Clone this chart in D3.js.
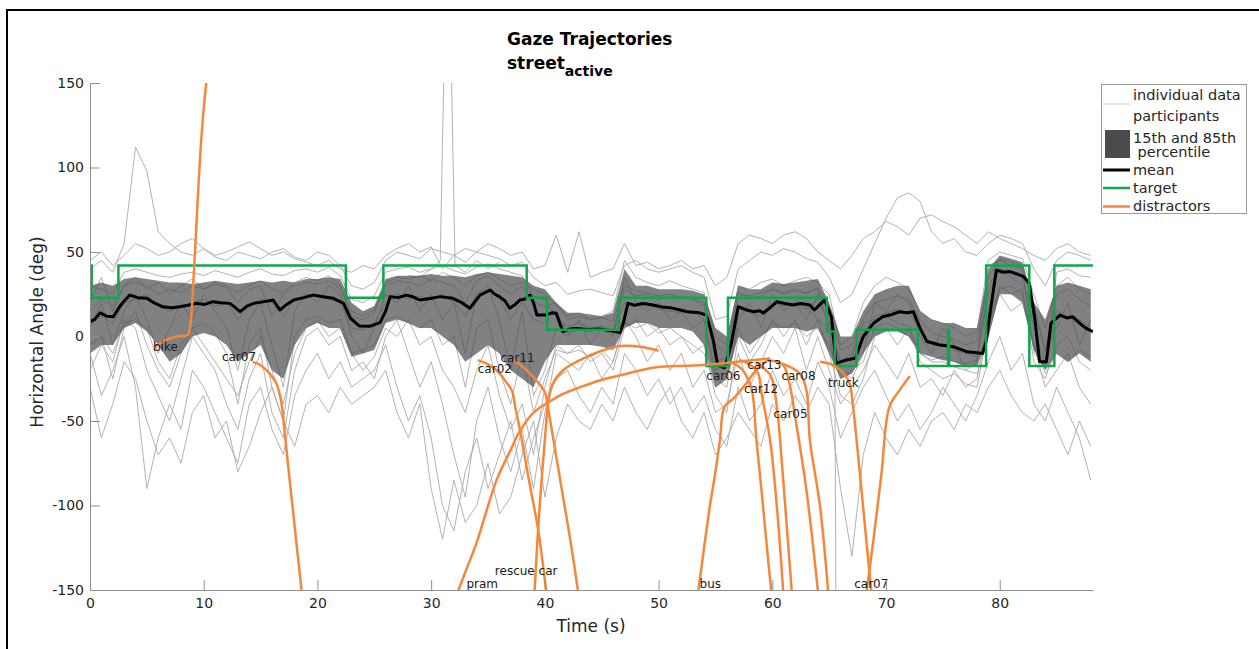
<!DOCTYPE html>
<html>
<head>
<meta charset="utf-8">
<script src="https://cdn.jsdelivr.net/npm/d3@7"></script>
<style>
body { margin: 0; background: #fff; }
text { font-family: "DejaVu Sans", sans-serif; }
</style>
</head>
<body>
<div id="chart"></div>
<script>

// ---- data ----
var xTicks = [0, 10, 20, 30, 40, 50, 60, 70, 80];
var yTicks = [-150, -100, -50, 0, 50, 100, 150];

// one sample per second, t = 0..88
var gridTimes = d3.range(0, 89);

var p01 = [40,45,38,55,112,98,62,55,50,48,52,47,45,50,48,46,50,52,47,45,50,48,42,30,28,32,45,50,48,46,52,50,48,44,50,48,46,42,44,35,30,32,25,27,28,26,24,42,45,40,38,40,42,38,35,10,12,40,45,50,48,52,50,46,44,35,20,25,40,55,70,82,85,80,62,55,58,50,48,55,60,58,55,40,30,45,50,48,45];
var p02 = [-10,-35,-20,0,-30,-90,-60,-40,-55,-20,-30,-45,-60,-75,-40,-30,-55,-70,-35,-20,-10,-25,-15,-30,-25,-20,-5,-30,-50,-35,-60,-100,-115,-80,-60,-90,-70,-50,-85,-60,-40,-25,-20,-35,-45,-30,-40,-10,-20,-35,-25,-40,-30,-45,-35,-55,-65,-30,-50,-40,-20,-35,-25,-40,-15,-30,-60,-45,-30,-20,-35,-50,-40,-55,-45,-30,-40,-50,-35,-15,0,-20,-10,-40,-50,-30,-45,-60,-85];
var p03 = [30,28,25,38,40,38,36,35,37,38,36,39,37,35,38,40,37,36,39,40,38,41,36,22,20,24,38,40,41,38,40,42,39,37,41,43,40,38,36,24,22,12,6,8,5,6,4,28,24,25,22,23,24,22,20,-15,-12,25,24,26,28,25,27,26,28,5,-15,-10,8,10,12,8,6,-10,-14,-12,-15,-16,-14,42,45,42,40,-10,-18,38,40,36,35];
var p04 = [5,20,-5,15,25,10,-10,5,20,10,25,15,5,-20,10,20,-5,-30,15,25,20,30,25,0,-10,5,25,20,30,15,25,10,20,-10,25,30,10,-20,15,-35,-20,5,0,10,-5,5,0,35,20,15,20,10,15,5,10,-25,-30,10,20,5,25,15,20,10,25,15,-20,-25,-10,20,15,25,20,0,-10,5,-5,-20,-15,30,40,35,30,20,-10,5,20,-5,10];
var p05 = [-20,-5,-15,10,5,-20,-35,-50,-25,0,-10,-20,-40,-55,-25,-10,-45,-60,-20,0,5,-5,0,-20,-15,-25,0,10,-10,-30,-15,-40,-70,-95,-50,-30,-60,-80,-55,-90,-45,-10,-15,-20,-10,-25,-15,10,0,-15,-5,-20,-10,-30,-20,-45,-40,-10,-30,-15,0,-10,5,-20,0,-20,-40,-30,-20,-5,-15,-25,-10,-30,-25,-35,-20,-30,-25,10,25,15,20,-5,-30,-20,-10,-30,-40];
var p06 = [20,35,15,30,35,28,32,25,30,34,28,32,30,26,30,33,28,26,32,35,33,36,30,12,10,14,32,35,34,36,33,38,35,30,36,38,34,30,32,28,25,18,12,14,10,12,15,45,35,32,30,33,30,28,26,0,-5,30,28,32,34,30,33,35,32,25,-5,0,20,30,35,32,28,15,10,8,5,0,3,45,50,48,46,25,5,30,35,28,25];
var p07 = [45,50,42,48,55,52,48,50,55,58,52,48,50,53,56,52,48,50,46,44,42,45,40,38,42,40,48,52,55,50,53,40,48,52,50,55,52,48,50,40,42,60,38,62,35,38,40,55,42,44,40,42,45,40,42,30,35,55,60,58,55,60,62,58,50,45,40,48,58,62,68,65,60,70,72,68,65,60,55,62,58,55,52,48,45,52,55,50,48];
var p08 = [-30,-60,-40,-15,-25,-50,-70,-60,-75,-45,-35,-60,-50,-80,-65,-45,-30,-50,-65,-40,-35,-45,-30,-40,-35,-30,-20,-45,-60,-40,-90,-120,-85,-110,-100,-75,-105,-95,-70,-50,-95,-60,-40,-50,-55,-40,-50,-30,-45,-55,-40,-30,-50,-60,-45,-70,-60,-45,-55,-65,-40,-50,-35,-45,-30,-40,-90,-130,-70,-45,-60,-70,-55,-65,-50,-45,-55,-40,-45,-30,-20,-35,-45,-50,-40,-55,-70,-50,-65];
var p09 = [10,12,8,20,22,25,18,15,18,20,22,18,20,10,18,22,20,12,22,25,24,22,20,5,4,8,20,25,22,24,22,25,20,12,25,28,22,10,20,10,8,15,2,4,3,5,2,20,18,20,16,15,14,15,10,-20,-15,18,14,12,20,18,20,16,22,8,-15,-12,2,12,14,16,14,5,-5,-4,-8,-10,-12,25,40,38,36,5,-16,15,12,10,5];
var p10 = [-5,0,-25,5,15,-5,-20,-30,-10,5,-5,-15,-25,-35,-15,0,-20,-40,-10,5,10,0,5,-10,-20,-12,5,0,10,-5,0,-20,-30,-45,-20,-5,-35,-55,-40,-70,-30,-5,-10,-5,-15,-10,-20,5,10,0,5,-5,0,-10,-5,-35,-45,0,-15,-5,10,0,10,-5,10,-10,-35,-40,-25,0,5,-5,5,-15,-20,-25,-22,-28,-30,5,30,25,28,-15,-25,-5,0,-15,-20];
var p11 = [15,22,18,30,32,30,25,28,26,30,28,31,29,20,28,30,12,25,30,32,31,33,28,15,12,16,30,33,32,30,34,32,30,20,33,36,30,25,30,20,18,20,10,12,10,11,9,30,27,26,24,25,23,22,18,-5,-10,26,22,24,28,26,28,25,29,15,-8,-5,10,20,22,24,22,10,2,0,-2,-5,-3,35,46,44,42,18,-8,25,28,22,18];
var p12 = [-5,0,-10,8,10,5,-15,-25,-5,5,8,2,-10,-40,-5,5,-30,-50,0,10,12,8,10,-10,-8,-5,10,12,8,5,10,-5,0,-30,5,10,-20,-40,-10,-45,-25,-8,-10,-8,-12,-8,-15,8,5,8,2,5,0,-5,-10,-30,-25,5,-10,0,8,5,8,0,5,-5,-25,-20,-15,5,8,5,0,-10,-15,-15,-18,-20,-22,0,28,30,25,-5,-22,-10,-15,-8,-12];
var participants = [p01, p02, p03, p04, p05, p06, p07, p08, p09, p10, p11, p12];

// participants with short excursions, read as [time, angle]
var spikeTrace = [[28,36],[29,35],[30,40],[30.8,45],[31.1,150],[31.3,165],[31.6,165],[31.8,150],[32.1,42],[33,38],[34,45],[35,40],[36,44]];
var dropTrace = [[62,22],[63,18],[64,10],[65,5],[65.5,-20],[65.6,-165]];

// 15th / 85th percentile band
var bandUpper = [30,32,30,34,35,34,33,32,32,31,32,33,32,31,32,33,32,33,32,34,34,35,34,20,15,18,34,36,36,36,37,36,36,35,37,38,37,36,35,30,28,20,14,14,13,12,14,40,30,30,28,28,28,27,25,5,0,30,28,28,32,31,32,33,34,20,0,0,15,25,28,30,30,15,10,8,8,5,5,40,48,46,44,20,10,30,32,30,28];
var bandLower = [-10,-5,-5,5,8,3,-5,-15,-10,0,2,0,-5,-15,-10,-5,-20,-25,-5,5,8,5,5,-12,-10,-8,8,10,8,5,5,0,-5,-15,-10,-5,-10,-20,-25,-30,-15,-5,-5,-5,-5,-6,-8,5,8,8,5,5,5,3,-5,-30,-25,0,-5,0,5,5,5,3,5,-10,-25,-22,-10,0,3,3,0,-10,-12,-14,-15,-18,-18,0,25,25,20,-8,-20,-10,-15,-10,-15];

// mean gaze, [time, angle]
var meanGaze = [[0,8.8],[0.4,10],[0.9,14],[1.5,12],[2.05,11.7],[2.6,17.6],[3.0,21],[3.5,24.5],[4.2,23],[5.0,22.6],[5.6,20],[6.4,17.6],[7.2,17],[7.9,17.6],[8.6,18.5],[9.4,19.6],[10.1,19],[10.8,20.6],[11.5,20],[12.3,19.6],[12.8,17],[13.2,14.7],[13.8,18],[14.4,19.6],[15.2,20.5],[16.1,21.6],[16.7,15.7],[17.3,19],[17.9,21.6],[18.8,23],[19.6,24.5],[20.5,23.5],[21.4,22.6],[22.3,19.6],[22.9,10.8],[23.7,6.2],[24.6,6],[25.5,8.2],[26.0,15],[26.4,23.6],[27.1,23],[27.8,24.5],[28.4,23.5],[29,21.6],[29.9,22.5],[30.8,23.6],[31.9,22.6],[32.7,20],[33.4,16.7],[34.3,24.5],[35.2,27.5],[35.6,25],[36.0,23.6],[36.5,21],[36.9,16.7],[37.4,19],[37.8,21.6],[38.2,22],[38.7,24.5],[39.0,20],[39.3,12.7],[40.1,12.7],[40.6,14],[41.0,13.7],[41.3,8],[41.6,2.9],[42.2,4.5],[42.8,4.8],[43.8,4.2],[44.8,4.5],[45.7,3.5],[46.6,2.3],[46.9,8],[47.3,19.6],[47.9,18.5],[48.6,19.5],[49.5,18.6],[50.3,17.5],[51.2,16.8],[52.0,15.5],[52.5,14.7],[53.6,14],[54.2,12.7],[54.5,5.8],[54.8,-2],[55.2,-17],[55.8,-18.5],[56.1,-12],[56.4,-4],[57.0,17.6],[57.6,16],[58.3,14.7],[58.9,15.2],[59.2,13.9],[59.8,17],[60.4,20.6],[61.1,19.5],[61.8,18.6],[62.5,19.5],[63.3,18.6],[63.7,15.7],[64.2,19],[64.6,21.6],[65.2,11.7],[65.6,-15.9],[66.0,-15],[66.5,-13.9],[67.3,-12.9],[68.0,0],[68.9,7.8],[69.7,11.7],[70.5,13],[71.2,14.7],[71.8,14],[72.4,14.7],[73.0,4.8],[73.6,-3],[74.2,-4],[74.7,-5],[75.3,-5.5],[75.9,-6],[76.5,-7.5],[77.1,-9],[77.8,-9.5],[78.5,-10],[78.8,-3],[79.1,11.7],[79.7,39.3],[80.3,38],[80.9,38.4],[81.5,37],[82.1,35.4],[82.6,31.5],[83.1,9.8],[83.5,-14.9],[84.1,-15],[84.5,7.8],[85.3,12.7],[85.9,11],[86.4,11.7],[87.0,8],[87.6,4.8],[88.2,2.8]];

// target angle, step changes: level holds from each time to the next
var targetTimes  = [0, 0.15, 2.5, 22.5, 25.8, 38.4, 40.2, 46.5, 54.2, 56.1, 64.8, 65.5, 67.4, 72.8, 75.45, 75.55, 78.8, 82.6, 84.8, 88.2];
var targetLevels = [42, 23, 42, 23, 42, 23, 4, 23, -17.5, 23, 3, -17.5, 4, -17.5, 4, -17.5, 42, -17.5, 42, 42];

// distractor trajectories, [time, angle]
var bike = [[5.7,-6],[6.6,-2.5],[7.6,0],[8.6,1],[8.85,8],[9.05,28],[9.25,52],[9.45,78],[9.7,108],[10.0,135],[10.35,158]];
var car07a = [[14.3,-15],[15.0,-17],[15.8,-22],[16.4,-28],[16.8,-38],[17.1,-55],[17.4,-75],[17.8,-100],[18.2,-125],[18.6,-150]];
var car02 = [[34.1,-14],[35.0,-16.5],[35.9,-21],[36.6,-27],[37.1,-32],[37.4,-42],[37.8,-55],[38.6,-85],[39.4,-114],[40.1,-150]];
var car11 = [[37.2,-14],[37.9,-17],[38.7,-22],[39.5,-28],[40.0,-33],[40.4,-47],[41.0,-71],[41.6,-95],[42.3,-123],[42.9,-150]];
var pram = [[32.4,-150],[33.2,-136],[34.0,-122],[35.75,-85],[37.0,-67],[37.8,-56],[39.0,-45],[40.3,-39],[41.6,-34],[43.1,-30],[44.8,-26],[46.6,-23],[49.5,-18.5],[51.5,-17.5],[53.6,-17],[55.5,-16],[57.5,-14.5],[59.8,-13]];
var rescueCar = [[39.1,-150],[39.35,-120],[39.6,-95],[40.0,-61],[40.3,-39],[40.7,-28],[41.6,-20],[43.7,-12],[45.2,-8],[46.6,-5.6],[48.4,-6],[50.0,-8.4]];
var bus = [[53.5,-150],[54.0,-125],[54.5,-100.7],[55.0,-80],[55.4,-61],[55.8,-41.5],[56.6,-36.6],[57.6,-28.7],[58.6,-19.8],[59.8,-12.9]];
var car06 = [[56.1,-14.9],[57.0,-17.5],[57.6,-21.8],[58.2,-31.7],[58.6,-61],[59.05,-91],[59.6,-130],[59.9,-150]];
var car12 = [[57.1,-13.9],[58.0,-16.5],[58.75,-21.8],[59.05,-33.6],[59.8,-61],[60.4,-100.7],[60.95,-150]];
var car13 = [[58.6,-15.9],[59.3,-19],[59.9,-23.8],[60.4,-41.5],[60.8,-71],[61.25,-110.5],[61.7,-150]];
var car05 = [[59.6,-13.9],[60.95,-16.9],[61.5,-27.7],[62.1,-51.4],[63.0,-90.8],[64.0,-150]];
var car08 = [[60.8,-15.9],[61.7,-18.5],[62.4,-21.8],[63.0,-31.7],[63.3,-61],[64.2,-100.7],[64.9,-150]];
var truck = [[64.2,-14.9],[65.0,-16],[65.6,-17.9],[66.3,-22],[66.8,-27.7],[67.1,-41.5],[67.7,-81],[68.4,-130],[68.7,-150]];
var car07b = [[68.3,-150],[68.9,-120],[69.6,-81],[70.3,-41.5],[71.2,-31.7],[72.1,-23.4]];
var distractors = [bike, car07a, car02, car11, pram, rescueCar, bus, car06, car12, car13, car05, car08, truck, car07b];

var labelNames = ["bike", "car07", "car02", "car11", "rescue car", "pram", "bus", "car07", "car06", "car13", "car12", "car08", "car05", "truck"];
var labelTimes = [5.54, 11.6, 34.1, 36.1, 35.6, 33.1, 53.6, 67.2, 54.2, 57.8, 57.5, 60.8, 60.1, 64.9];
var labelAngles = [-8.6, -14.5, -21.6, -15.1, -141, -148.8, -148.8, -148.8, -25.7, -19.2, -33.4, -25.7, -48.2, -29.9];

// ---- drawing ----
var W = 1259, H = 649;
var plot = {left: 90, right: 1093, top: 83, bottom: 590};
var grayLine = "#a9a9a9", bandFill = "#4b4b4e", green = "#12a64c", orange = "#f5873a";
var axisColor = "#8f8f8f", textColor = "#262626";

var svg = d3.select("#chart").append("svg")
    .attr("width", W)
    .attr("height", H);

var xScale = d3.scaleLinear().domain([0, 88.2]).range([plot.left, plot.right]);
var yScale = d3.scaleLinear().domain([-150, 150]).range([plot.bottom, plot.top]);

svg.append("clipPath").attr("id", "plotClip")
    .append("rect")
    .attr("x", plot.left).attr("y", plot.top)
    .attr("width", plot.right - plot.left)
    .attr("height", plot.bottom - plot.top);

var g = svg.append("g").attr("clip-path", "url(#plotClip)");

var gridLine = d3.line()
    .x((d, i) => xScale(gridTimes[i]))
    .y(d => yScale(d));
var pairLine = d3.line()
    .x(d => xScale(d[0]))
    .y(d => yScale(d[1]));

// individual participants
g.selectAll(".participant")
    .data(participants).enter()
    .append("path")
    .attr("class", "participant")
    .attr("d", gridLine)
    .attr("fill", "none")
    .attr("stroke", grayLine)
    .attr("stroke-width", 0.9);

g.selectAll(".excursion")
    .data([spikeTrace, dropTrace]).enter()
    .append("path")
    .attr("class", "excursion")
    .attr("d", pairLine)
    .attr("fill", "none")
    .attr("stroke", grayLine)
    .attr("stroke-width", 0.9);

// percentile band
var band = d3.area()
    .x(d => xScale(d))
    .y0((d, i) => yScale(bandLower[i]))
    .y1((d, i) => yScale(bandUpper[i]));

g.append("path")
    .datum(gridTimes)
    .attr("d", band)
    .attr("fill", bandFill)
    .attr("fill-opacity", 0.7);

// mean
g.append("path")
    .datum(meanGaze)
    .attr("d", pairLine)
    .attr("fill", "none")
    .attr("stroke", "#000")
    .attr("stroke-width", 3)
    .attr("stroke-linejoin", "round");

// target
var targetLine = d3.line()
    .x(d => xScale(d))
    .y((d, i) => yScale(targetLevels[i]))
    .curve(d3.curveStepAfter);

g.append("path")
    .datum(targetTimes)
    .attr("d", targetLine)
    .attr("fill", "none")
    .attr("stroke", green)
    .attr("stroke-width", 2.5);

// distractors
var smoothLine = d3.line()
    .x(d => xScale(d[0]))
    .y(d => yScale(d[1]))
    .curve(d3.curveCatmullRom.alpha(0.5));

g.selectAll(".distractor")
    .data(distractors).enter()
    .append("path")
    .attr("class", "distractor")
    .attr("d", smoothLine)
    .attr("fill", "none")
    .attr("stroke", orange)
    .attr("stroke-width", 2.5);

svg.selectAll(".dlabel")
    .data(labelNames).enter()
    .append("text")
    .attr("class", "dlabel")
    .attr("x", (d, i) => xScale(labelTimes[i]))
    .attr("y", (d, i) => yScale(labelAngles[i]))
    .attr("font-size", "12px")
    .attr("fill", "#1a1a1a")
    .text(d => d);

// axes, MATLAB style: ticks pointing inwards, plain hyphen minus
var xAxis = d3.axisBottom(xScale).tickValues(xTicks).tickFormat(d => String(d))
    .tickSizeInner(-10).tickSizeOuter(0).tickPadding(8);
var yAxis = d3.axisLeft(yScale).tickValues(yTicks).tickFormat(d => String(d))
    .tickSizeInner(-10).tickSizeOuter(0).tickPadding(6);

var xAxisG = svg.append("g")
    .attr("transform", `translate(0, ${plot.bottom})`)
    .call(xAxis);
var yAxisG = svg.append("g")
    .attr("transform", `translate(${plot.left}, 0)`)
    .call(yAxis);

[xAxisG, yAxisG].forEach(a => {
    a.select(".domain").attr("stroke", axisColor);
    a.selectAll(".tick line").attr("stroke", axisColor);
    a.selectAll(".tick text")
        .attr("fill", textColor)
        .style("font-size", "14px")
        .style("font-family", "DejaVu Sans, sans-serif");
});

svg.append("text")
    .attr("x", 591).attr("y", 632)
    .attr("text-anchor", "middle")
    .attr("font-size", "17px")
    .attr("fill", textColor)
    .text("Time (s)");

svg.append("text")
    .attr("transform", "translate(43, 332) rotate(-90)")
    .attr("text-anchor", "middle")
    .attr("font-size", "17px")
    .attr("fill", textColor)
    .text("Horizontal Angle (deg)");

// title
svg.append("text")
    .attr("x", 507).attr("y", 45)
    .attr("font-size", "17px")
    .attr("font-weight", "bold")
    .attr("fill", "#000")
    .text("Gaze Trajectories");

var sub = svg.append("text")
    .attr("x", 507).attr("y", 69)
    .attr("font-size", "17px")
    .attr("font-weight", "bold")
    .attr("fill", "#000");
sub.append("tspan").text("street");
sub.append("tspan").attr("dy", 7).attr("font-size", "14px").text("active");

// legend
var leg = svg.append("g");
leg.append("rect")
    .attr("x", 1101.5).attr("y", 84.5)
    .attr("width", 145).attr("height", 129)
    .attr("fill", "#fff")
    .attr("stroke", "#9a9a9a");

var legLines = [
    {y: 104, color: "#cfcfcf", w: 1},
    {y: 170, color: "#000", w: 3},
    {y: 188, color: green, w: 2.5},
    {y: 206.5, color: orange, w: 2.5}
];
leg.selectAll(".legline")
    .data(legLines).enter()
    .append("line")
    .attr("x1", 1103).attr("x2", 1130)
    .attr("y1", d => d.y).attr("y2", d => d.y)
    .attr("stroke", d => d.color)
    .attr("stroke-width", d => d.w);

leg.append("rect")
    .attr("x", 1105).attr("y", 130)
    .attr("width", 25).attr("height", 28)
    .attr("fill", bandFill);

var legTexts = [
    {t: "individual data", y: 100},
    {t: "participants", y: 121},
    {t: "15th and 85th", y: 143},
    {t: "\u00a0percentile", y: 157},
    {t: "mean", y: 175},
    {t: "target", y: 193},
    {t: "distractors", y: 211}
];
leg.selectAll(".legtext")
    .data(legTexts).enter()
    .append("text")
    .attr("x", 1133)
    .attr("y", d => d.y)
    .attr("font-size", "14.5px")
    .attr("fill", textColor)
    .text(d => d.t);

// figure frame (left and top edges visible)
svg.append("path")
    .attr("d", "M7,649 L7,10 L1259,10")
    .attr("fill", "none")
    .attr("stroke", "#000")
    .attr("stroke-width", 2);

</script>
</body>
</html>
